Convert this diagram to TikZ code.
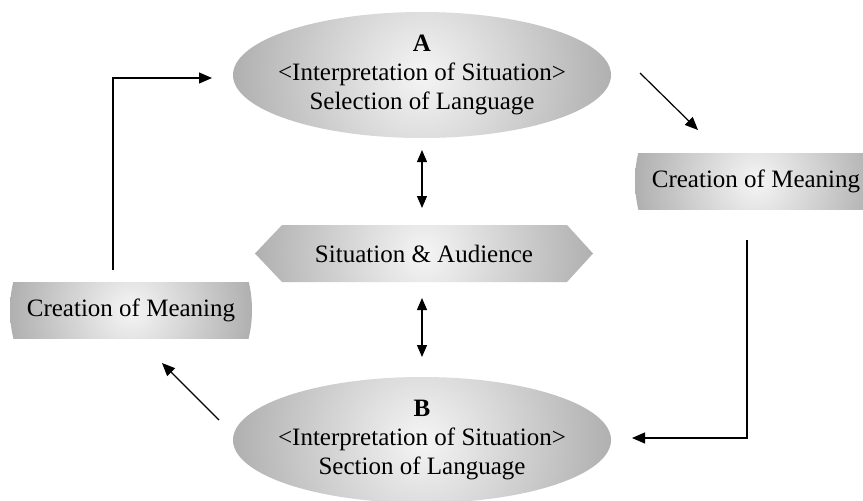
\documentclass[tikz,border=0pt]{standalone}
\usepackage{fontspec}
\setmainfont{Liberation Serif}
\usetikzlibrary{arrows.meta,shapes.geometric}
\begin{document}
\begin{tikzpicture}[x=1pt,y=-1pt,
  txt/.style={font=\fontsize{25}{29}\selectfont, align=center, inner sep=0pt},
  shd/.style={path picture={\shade[inner color=white!96!black, outer color=gray!62] (path picture bounding box.center) circle (#1);}},
  oval/.style={ellipse, minimum width=378pt, minimum height=126pt, inner sep=0pt, outer sep=0pt, shd=189pt},
  box/.style={rectangle, minimum width=242pt, minimum height=56pt, inner sep=0pt, outer sep=0pt, shd=121pt, txt},
  tip/.style={Triangle[length=13pt,width=11pt]},
  arr/.style={-{Triangle[length=13pt,width=11pt]}, line width=1.2pt},
  dbl/.style={{Triangle[length=12pt,width=10pt]}-{Triangle[length=12pt,width=10pt]}, line width=1.2pt}]
\useasboundingbox (0,0) rectangle (863,501);
\fill[white] (0,0) rectangle (863,501);
% hexagon background
\begin{scope}
  \clip (255,253.5) -- (282,225) -- (567,225) -- (593,253.5) -- (567,282) -- (282,282) -- cycle;
  \shade[inner color=white!96!black, outer color=gray!62] (424,253.5) circle (169);
\end{scope}
\node[oval] (A) at (422,75) {};
\node[txt] (At) at (A.center) {\textbf{A}\\<Interpretation of Situation>\\Selection of Language};
\node[oval] (B) at (422,440) {};
\node[txt] (Bt) at (B.center) {\textbf{B}\\<Interpretation of Situation>\\Section of Language};
\node[box] (R) at (756,181) {Creation of Meaning};
\node[box] (L) at (131,310) {Creation of Meaning};
\node[txt, minimum width=338pt, minimum height=57pt] (S) at (424,253.5) {Situation \& Audience};
% connectors
\draw[dbl] ([yshift=-75pt]A.center) -- ([yshift=-133pt]A.center);
\draw[dbl] ([yshift=142pt]B.center) -- ([yshift=83pt]B.center);
\draw[arr] ([xshift=-18pt,yshift=12pt]L.north) |- ([xshift=-210pt,yshift=-3pt]A.center);
\draw[arr] ([xshift=-9pt,yshift=-31pt]R.south) |- ([xshift=210pt,yshift=2pt]B.center);
\draw[arr] ([xshift=218pt,yshift=2pt]A.center) -- ([xshift=-58pt,yshift=23pt]R.north);
\draw[arr] ([xshift=-203pt,yshift=20pt]B.center) -- ([xshift=31pt,yshift=-25pt]L.south);
\end{tikzpicture}
\end{document}
